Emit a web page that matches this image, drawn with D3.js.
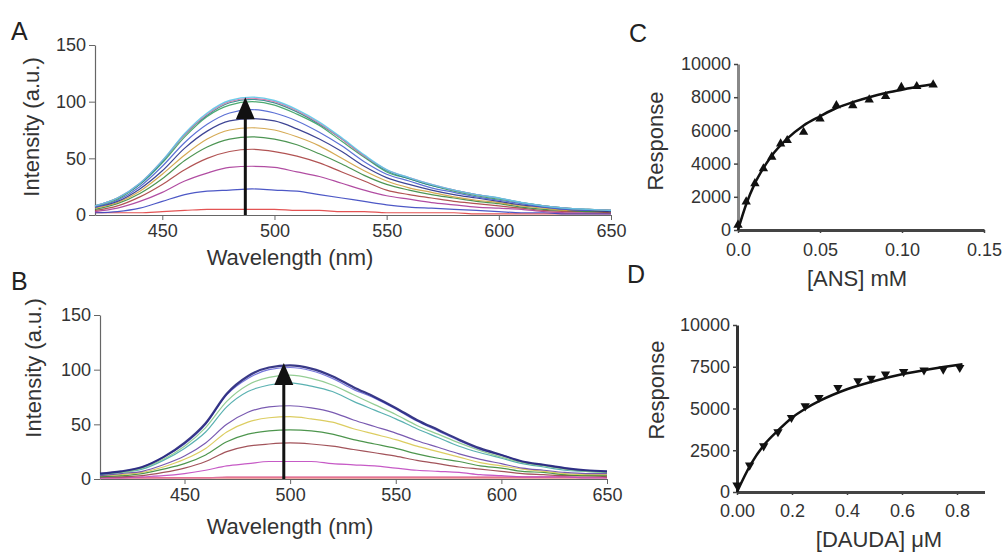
<!DOCTYPE html>
<html><head><meta charset="utf-8">
<script src="https://cdn.jsdelivr.net/npm/d3@7"></script>
<style>
html,body{margin:0;padding:0;background:#fff;}
svg{display:block;font-family:"Liberation Sans",Arial,sans-serif;}
</style></head><body>
<svg id="chart" width="1004" height="552"></svg>
<script>
// ---------- Panel A data (wavelength nm, intensity a.u.) ----------
const wavelengthsA = [420,430,440,450,460,470,480,490,500,510,520,530,540,550,560,570,580,590,600,610,620,630,640,650];
const specA01 = [2,2,2,3,4,5,5,5,5,4,4,3,3,2,2,2,2,1,1,1,1,1,1,1];
const specA02 = [2,3,6,12,18,21,22,23,22,21,18,15,12,9,7,6,5,4,3,2,2,1,1,1];
const specA03 = [3,6,12,20,30,37,42,43,42,38,34,28,22,17,14,11,9,7,6,5,3,2,2,2];
const specA04 = [4,8,16,27,40,50,56,58,56,52,46,38,30,22,18,15,12,10,8,6,4,3,3,2];
const specA05 = [5,10,19,32,48,60,67,69,67,62,54,45,35,27,22,18,15,12,10,7,5,4,3,3];
const specA06 = [6,11,21,36,53,67,75,77,75,69,61,50,39,30,24,20,16,13,11,8,6,4,4,3];
const specA07 = [7,12,23,39,59,74,83,85,83,76,67,56,43,33,27,22,18,15,12,9,7,5,4,3];
const specA08 = [7,13,25,43,64,80,90,93,90,83,73,61,47,36,30,24,20,16,13,10,7,5,4,4];
const specA09 = [8,14,27,46,69,87,97,100,97,89,79,65,51,38,32,26,21,17,14,11,8,6,5,4];
const specA10 = [8,15,27,47,71,88,99,102,99,91,80,67,52,39,32,26,22,18,15,11,8,6,5,4];
const specA11 = [8,15,28,48,71,89,100,103,100,92,81,67,52,40,33,27,22,18,15,11,8,6,5,4];
const specA12 = [8,15,28,48,72,90,101,104,101,93,82,68,53,40,33,27,22,18,15,11,8,6,5,4];
const colorsA = ["#e04040","#3a46c0","#a83a98","#a84040","#3a8a40","#d0a040","#283088","#4a62d0","#3aa060","#2a8888","#e070a8","#5cc8e8"];

// ---------- Panel B data ----------
const wavelengthsB = [410,420,430,440,450,460,470,480,490,500,510,520,530,540,550,560,570,580,590,600,610,620,630,640,650];
const specB01 = [1,1,1,1,1,1,1,1,1,1,1,1,1,1,1,1,1,1,1,1,1,1,1,1,1];
const specB02 = [1,1,1,1,1,1,2,2,2,2,2,2,2,2,2,2,2,2,2,2,2,2,2,2,2];
const specB03 = [1,1,2,3,5,8,12,14,16,16,16,14,13,12,10,8,7,6,4,3,2,2,2,1,1];
const specB04 = [2,2,3,6,10,16,25,30,32,33,32,30,27,24,21,17,14,11,9,7,5,4,3,3,2];
const specB05 = [2,3,5,9,14,22,34,41,44,45,44,41,36,32,28,23,19,16,12,10,7,6,4,3,3];
const specB06 = [3,4,6,11,18,28,43,52,56,57,55,52,46,41,36,30,25,20,15,12,9,7,5,4,4];
const specB07 = [3,5,7,13,21,33,50,61,66,67,65,61,54,48,42,35,29,23,18,14,10,8,6,5,5];
const specB08 = [4,6,9,17,28,43,66,80,86,88,85,80,71,63,55,46,38,30,24,19,14,11,8,7,6];
const specB09 = [5,6,10,18,30,47,71,86,93,95,92,86,77,68,59,49,41,33,26,20,15,12,9,7,6];
const specB10 = [5,7,11,20,32,50,77,92,100,102,99,92,82,74,64,53,44,35,27,22,16,13,10,8,7];
const specB11 = [5,7,11,20,33,51,78,94,102,104,101,94,84,75,65,54,45,36,28,22,16,13,10,8,7];
const colorsB = ["#e04040","#e070a0","#c048c0","#984048","#3a8a3a","#d8c850","#6a48a8","#48a8a8","#88c888","#6868d8","#23237a"];

const intensityTicks = [0,50,100,150];
const wavelengthTicks = [450,500,550,600,650];
const arrowA = [487, 0, 104];
const arrowB = [497, 0, 106];

// ---------- Panel C data ----------
const ansConc = [0,0.005,0.0103,0.0155,0.0206,0.026,0.030,0.040,0.050,0.060,0.070,0.080,0.090,0.0996,0.109,0.119];
const ansResp = [300,1700,2800,3700,4400,5200,5400,5900,6700,7500,7500,7850,8050,8600,8650,8750];
const ansFitX = [0,0.005,0.01,0.015,0.02,0.03,0.04,0.05,0.06,0.07,0.08,0.09,0.10,0.11,0.12];
const ansFitY = [0,1550,2750,3650,4400,5500,6300,6850,7350,7700,8000,8250,8450,8650,8800];
const ansYTicks = [0,2000,4000,6000,8000,10000];
const ansXTicks = [0,0.05,0.10,0.15];
const ansXLabels = ["0.0","0.05","0.10","0.15"];

// ---------- Panel D data ----------
const daudaConc = [0,0.046,0.097,0.149,0.198,0.248,0.298,0.367,0.44,0.488,0.54,0.606,0.68,0.75,0.81];
const daudaResp = [400,1600,2750,3600,4450,5150,5650,6250,6650,6800,7050,7200,7300,7350,7450];
const daudaFitX = [0,0.05,0.1,0.15,0.2,0.25,0.3,0.4,0.5,0.6,0.7,0.82];
const daudaFitY = [0,1650,2850,3700,4450,5000,5450,6150,6650,7050,7350,7650];
const daudaYTicks = [0,2500,5000,7500,10000];
const daudaXTicks = [0,0.2,0.4,0.6,0.8];
const daudaXLabels = ["0.00","0.2","0.4","0.6","0.8"];

const svg = d3.select("#chart");
const TICKFONT = 18, TITLEFONT = 22, TXT = "#333";

function spectraPanel(o){
  const x = d3.scaleLinear().domain(o.xd).range(o.xr);
  const y = d3.scaleLinear().domain([0,150]).range(o.yr);
  const g = svg.append("g");
  const ax = g.append("g").attr("transform",`translate(0,${o.yr[0]})`)
    .call(d3.axisBottom(x).tickValues(wavelengthTicks).tickSize(5).tickSizeOuter(0).tickPadding(4));
  const ay = g.append("g").attr("transform",`translate(${o.xr[0]},0)`)
    .call(d3.axisLeft(y).tickValues(intensityTicks).tickSize(6).tickSizeOuter(0).tickPadding(3));
  [ax,ay].forEach(a=>{
    a.select(".domain").attr("stroke","#666").attr("stroke-width",1.2);
    a.selectAll(".tick line").attr("stroke","#666");
    a.selectAll("text").attr("font-size",TICKFONT).attr("fill",TXT).attr("font-family","Liberation Sans, Arial");
  });
  const line = d3.line().x((d,i)=>x(o.w[i])).y(d=>y(d)).curve(d3.curveMonotoneX);
  o.series.forEach((s,i)=>{
    g.append("path").attr("d",line(s)).attr("fill","none").attr("stroke",o.colors[i])
      .attr("stroke-width", i===o.series.length-1 ? o.topW : 1.2).attr("opacity",0.9);
  });
  const ax0 = x(o.arrow[0]), yb = y(o.arrow[1]), yt = y(o.arrow[2]);
  g.append("line").attr("x1",ax0).attr("x2",ax0).attr("y1",yb).attr("y2",yt+18)
    .attr("stroke","#111").attr("stroke-width",3);
  g.append("path").attr("d",`M${ax0},${yt} L${ax0-9.5},${yt+22} L${ax0+9.5},${yt+22} Z`).attr("fill","#111");
  g.append("text").attr("x",o.xt[0]).attr("y",o.xt[1]).attr("text-anchor","middle")
    .attr("font-size",TITLEFONT).attr("fill",TXT).text("Wavelength (nm)");
  g.append("text").attr("transform",`translate(${o.yt[0]},${o.yt[1]}) rotate(-90)`).attr("text-anchor","middle")
    .attr("dominant-baseline","central").attr("font-size",TITLEFONT).attr("fill",TXT).text("Intensity (a.u.)");
  g.append("text").attr("x",o.letter[0]).attr("y",o.letter[1]).attr("font-size",25).attr("fill","#222").text(o.label);
}

spectraPanel({xd:[420,650], xr:[95,611], yr:[215,45], w:wavelengthsA,
  series:[specA01,specA02,specA03,specA04,specA05,specA06,specA07,specA08,specA09,specA10,specA11,specA12],
  colors:colorsA, topW:1.4, arrow:arrowA, xt:[290,265], yt:[31,127], letter:[11,40], label:"A"});
spectraPanel({xd:[410,650], xr:[100,607], yr:[479,315], w:wavelengthsB,
  series:[specB01,specB02,specB03,specB04,specB05,specB06,specB07,specB08,specB09,specB10,specB11],
  colors:colorsB, topW:2.2, arrow:arrowB, xt:[290,534], yt:[33,368], letter:[11,290], label:"B"});

function bindingPanel(o){
  const x = d3.scaleLinear().domain(o.xd).range(o.xr);
  const y = d3.scaleLinear().domain([0,10000]).range(o.yr);
  const g = svg.append("g");
  const ay = g.append("g").attr("transform",`translate(${o.xr[0]},0)`)
    .call(d3.axisLeft(y).tickValues(o.yTicks).tickFormat(d3.format("d")).tickSize(4).tickSizeOuter(0).tickPadding(3));
  const ax = g.append("g").attr("transform",`translate(0,${o.yr[0]})`)
    .call(d3.axisBottom(x).tickValues(o.xTicks).tickFormat((d,i)=>o.xLabels[i]).tickSize(3).tickSizeOuter(0).tickPadding(o.xPad));
  ay.select(".domain").attr("stroke",o.yAxisColor).attr("stroke-width",3);
  ax.select(".domain").attr("stroke","#444").attr("stroke-width",3);
  [ax,ay].forEach(a=>{
    a.selectAll(".tick line").attr("stroke","#444").attr("stroke-width",1.5);
    a.selectAll("text").attr("font-size",TICKFONT).attr("fill",TXT).attr("font-family","Liberation Sans, Arial");
  });
  const line = d3.line().x((d,i)=>x(o.fx[i])).y(d=>y(d)).curve(d3.curveMonotoneX);
  g.append("path").attr("d",line(o.fy)).attr("fill","none").attr("stroke","#111").attr("stroke-width",2.5);
  const sym = d3.symbol().type(d3.symbolTriangle).size(38);
  g.selectAll(".pt").data(o.py).join("path")
    .attr("transform",(d,i)=>`translate(${x(o.px[i])},${y(d)}) rotate(${o.down?180:0})`)
    .attr("d",sym).attr("fill","#111");
  g.append("text").attr("x",o.xt[0]).attr("y",o.xt[1]).attr("text-anchor","middle")
    .attr("font-size",TITLEFONT).attr("fill",TXT).text(o.xTitle);
  g.append("text").attr("transform",`translate(${o.yt[0]},${o.yt[1]}) rotate(-90)`).attr("text-anchor","middle")
    .attr("dominant-baseline","central").attr("font-size",TITLEFONT).attr("fill",TXT).text("Response");
  g.append("text").attr("x",o.letter[0]).attr("y",o.letter[1]).attr("font-size",25).attr("fill","#222").text(o.label);
}

bindingPanel({xd:[0,0.15], xr:[738,984], yr:[230,64], yTicks:ansYTicks, xTicks:ansXTicks, xLabels:ansXLabels, xPad:10,
  px:ansConc, py:ansResp, fx:ansFitX, fy:ansFitY, down:false, yAxisColor:"#888",
  xTitle:"[ANS] mM", xt:[857,286], yt:[655,141], letter:[629,42], label:"C"});
bindingPanel({xd:[0,0.9], xr:[737,984.5], yr:[492,325], yTicks:daudaYTicks, xTicks:daudaXTicks, xLabels:daudaXLabels, xPad:9,
  px:daudaConc, py:daudaResp, fx:daudaFitX, fy:daudaFitY, down:true, yAxisColor:"#333",
  xTitle:"[DAUDA] μM", xt:[879,547], yt:[656,390], letter:[627,283], label:"D"});
</script>
</body></html>
